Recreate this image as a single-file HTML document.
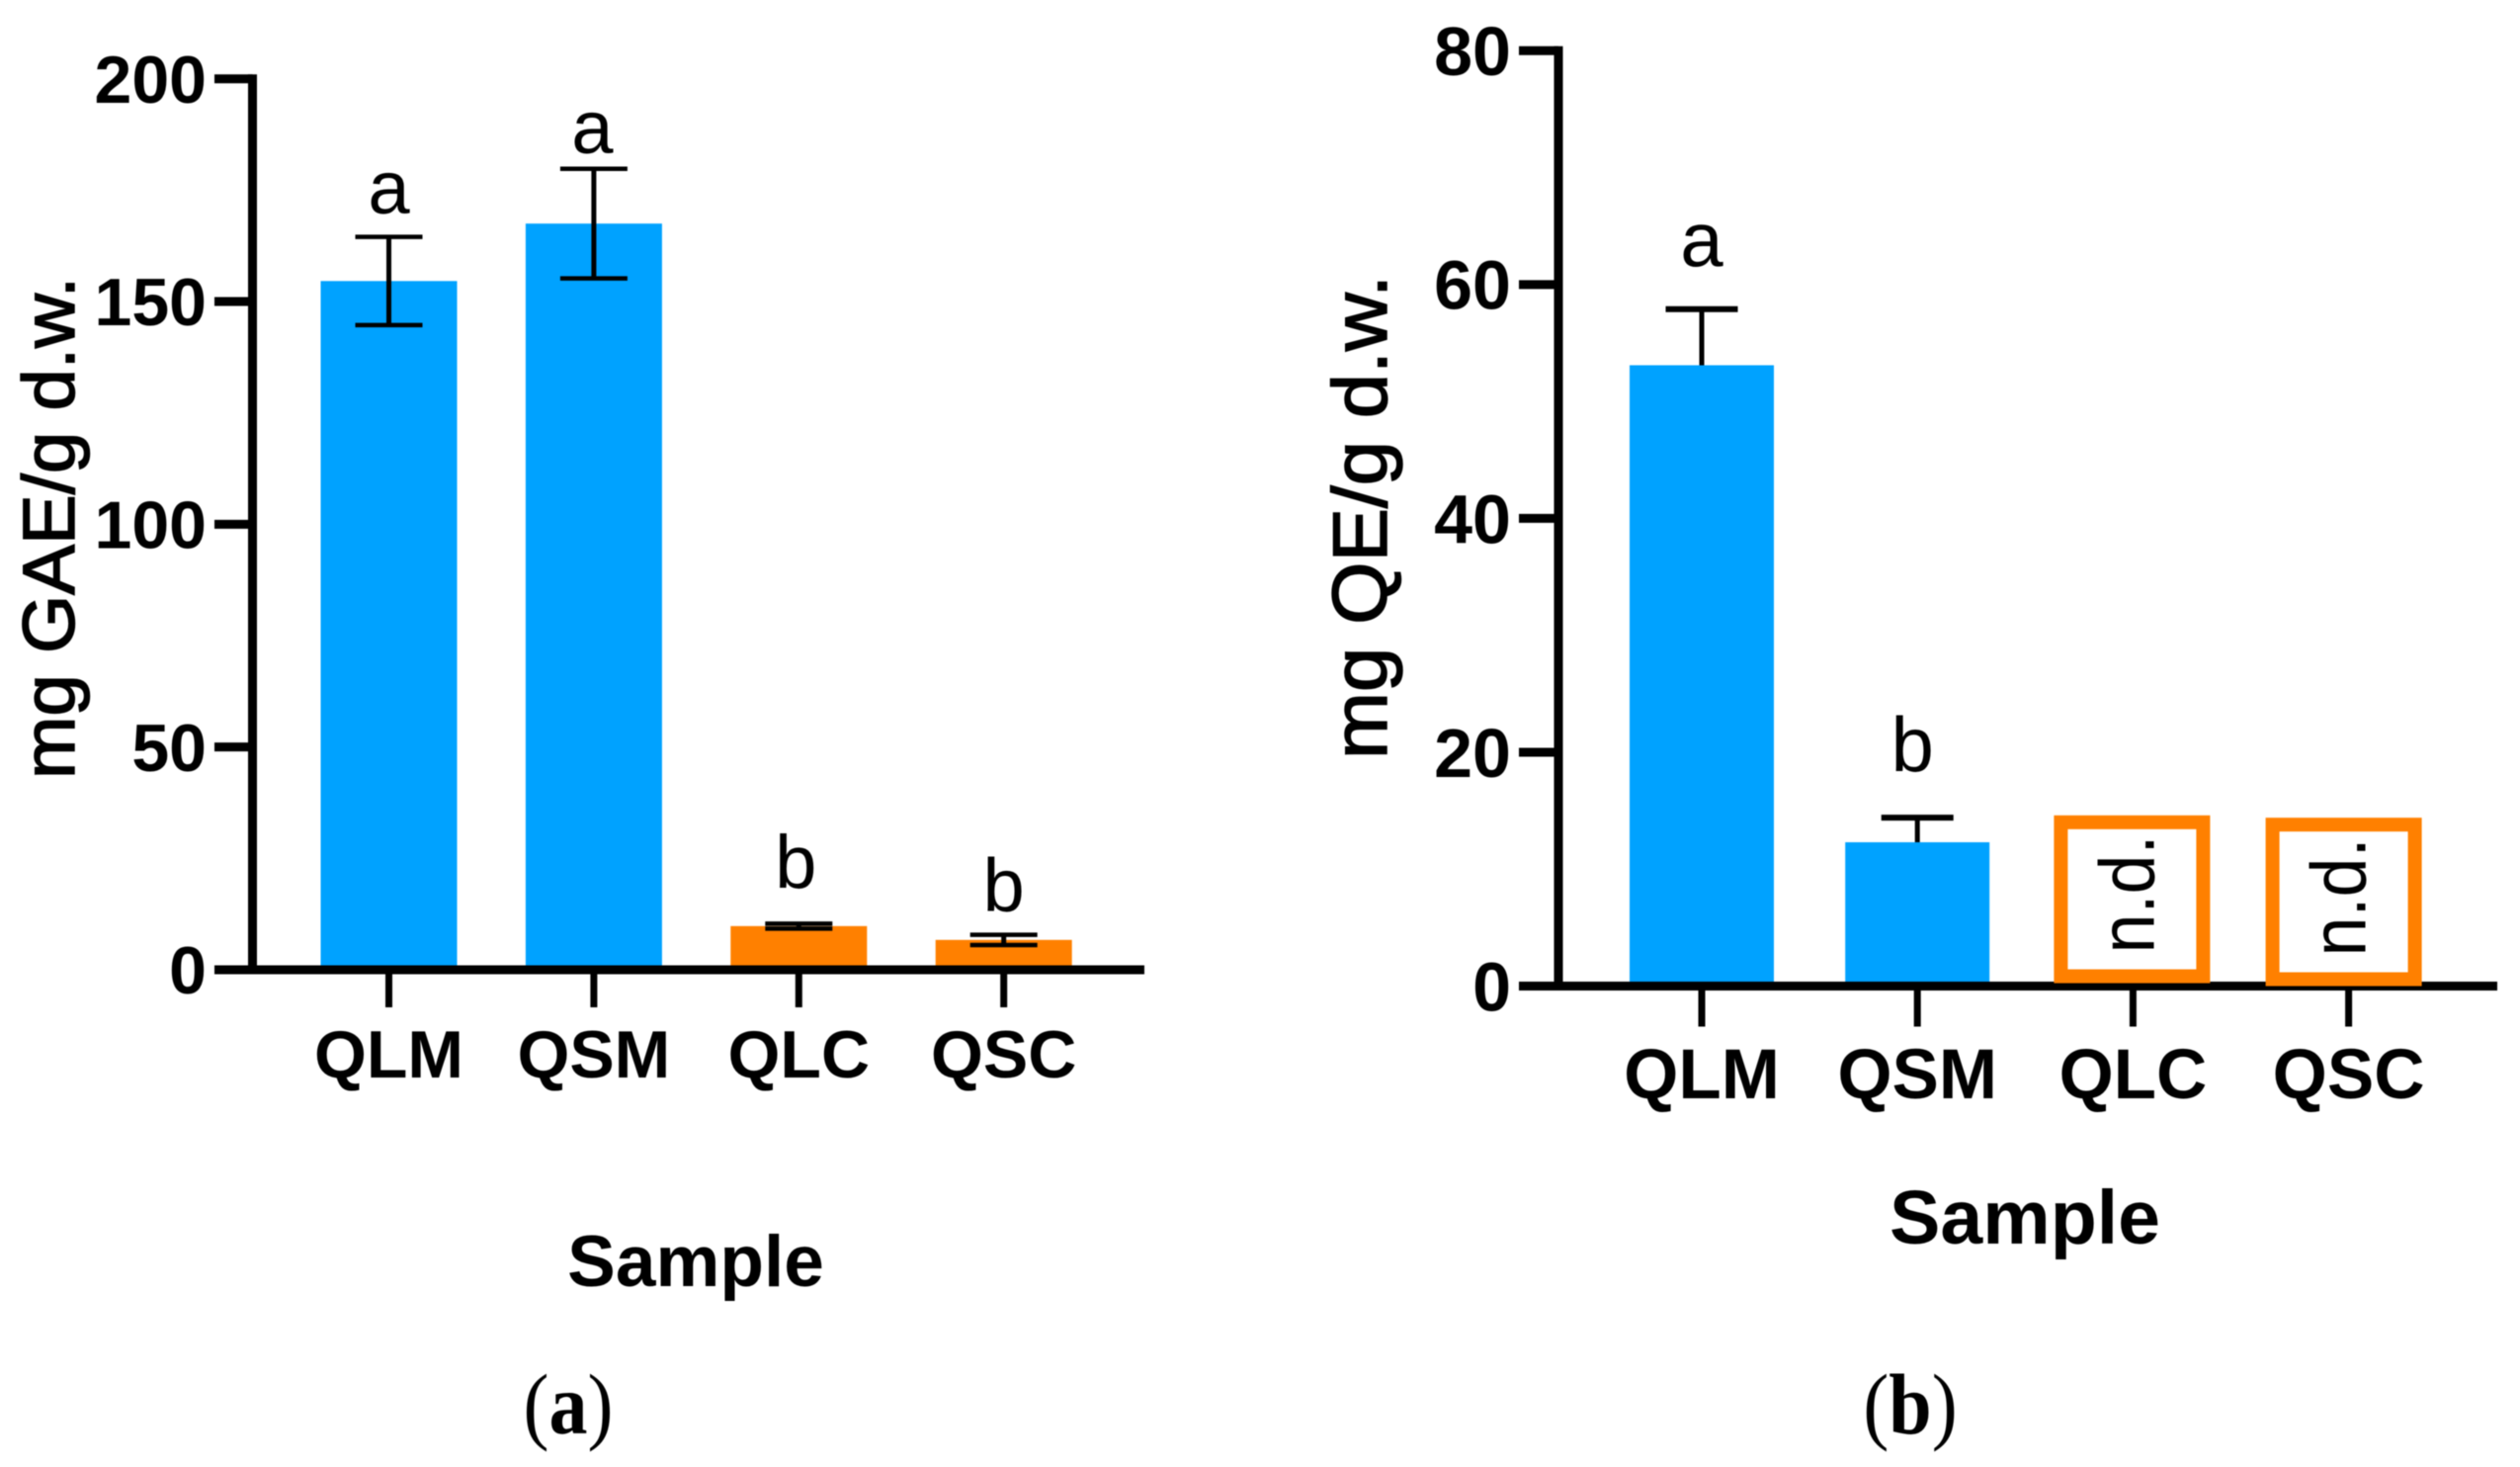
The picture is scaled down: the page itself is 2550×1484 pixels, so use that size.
<!DOCTYPE html>
<html lang="en">
<head>
<meta charset="utf-8">
<title>Phenolic and flavonoid content by sample</title>
<style>
html,body{margin:0;padding:0;background:#fff;}
svg{display:block;filter:blur(0.6px);}
text{font-family:"Liberation Sans",sans-serif;fill:#000;}
.serif{font-family:"Liberation Serif",serif;}
</style>
</head>
<body>
<svg id="figure" xmlns="http://www.w3.org/2000/svg" width="2550" height="1484" viewBox="0 0 2550 1484">
  <g id="panel-a"></g>
  <g id="panel-b"></g>
  <text class="serif" transform="translate(575 1450) scale(1 1.12)" font-size="78" text-anchor="middle">(<tspan font-weight="bold">a</tspan>)</text>
  <text class="serif" transform="translate(1933 1450) scale(1 1.12)" font-size="78" text-anchor="middle">(<tspan font-weight="bold">b</tspan>)</text>
</svg>
<script>
const categories = ['QLM', 'QSM', 'QLC', 'QSC'];

const gaeValues = [154.6, 167.5, 9.8, 6.7];
const gaeErrors = [9.9, 12.3, 0.55, 1.15];
const gaeLetters = ['a', 'a', 'b', 'b'];
const gaeLetterLevels = [169.8, 183.3, 18.4, 13.2];
const gaeTicks = [0, 50, 100, 150, 200];

const qeValues = [53.1, 12.3];
const qeErrors = [4.8, 2.1];
const qeLetters = ['a', 'b'];
const qeLetterLevels = [61.6, 18.4];
const qeTicks = [0, 20, 40, 60, 80];
const qeNotDetectedTops = [14.6, 14.4];
const qeNotDetectedBases = [0.25, 0];
const notDetectedLabel = 'n.d.';

const NS = 'http://www.w3.org/2000/svg';
const BLUE = '#00a2ff';
const ORANGE = '#ff8000';

function mk(parent, tag, attrs, text) {
  const el = document.createElementNS(NS, tag);
  for (const k in attrs) el.setAttribute(k, attrs[k]);
  if (text !== undefined) el.textContent = text;
  parent.appendChild(el);
  return el;
}

function makeAxes(o) {
  const y = v => o.y0 + (o.yTop - o.y0) * v / o.yMax;
  const x = i => o.catX0 + o.catStep * i;
  return { x, y };
}

function drawAxes(g, o, s, ticks) {
  let el;
  el = mk(g, 'line', {x1: o.axisX, x2: o.axisX, y1: s.y(o.yMax) - 4.5, y2: o.y0 + 4.5, stroke: '#000', 'stroke-width': o.axisW});
  
  
  el = mk(g, 'line', {x1: o.tickL, x2: o.xEnd, y1: o.y0, y2: o.y0, stroke: '#000', 'stroke-width': o.axisW});
  
  
  ticks.forEach(t => {
    el = mk(g, 'line', {x1: o.tickL, x2: o.axisX, y1: s.y(t), y2: s.y(t), stroke: '#000', 'stroke-width': o.axisW});
    
    
    el = mk(g, 'text', {x: o.tickL - 8, y: s.y(t) + o.tickFont * 0.355, 'font-size': o.tickFont, 'font-weight': 'bold', 'text-anchor': 'end'}, String(t));
    
    
  });
  categories.forEach((c, i) => {
    el = mk(g, 'line', {x1: s.x(i), x2: s.x(i), y1: o.y0, y2: o.y0 + o.xTickLen, stroke: '#000', 'stroke-width': 7});
    
    
    el = mk(g, 'text', {x: s.x(i), y: o.catY, 'font-size': o.catFont, 'font-weight': 'bold', 'text-anchor': 'middle'}, c);
    
    
  });
}

function drawBars(g, o, s, values, errors, letters, levels, hasLowerCap) {
  let el;
  values.forEach((v, i) => {
    const cx = s.x(i);
    const color = i < 2 ? BLUE : ORANGE;
    el = mk(g, 'rect', {x: cx - o.barW / 2, y: s.y(v), width: o.barW, height: o.y0 - s.y(v), fill: color});
    
    
    const hi = s.y(v + errors[i]);
    const lo = s.y(hasLowerCap ? v - errors[i] : v);
    el = mk(g, 'line', {x1: cx, x2: cx, y1: hi, y2: lo, stroke: '#000', 'stroke-width': 5});
    
    
    el = mk(g, 'line', {x1: cx - o.capW / 2, x2: cx + o.capW / 2, y1: hi, y2: hi, stroke: '#000', 'stroke-width': o.capT});
    
    
    if (hasLowerCap) {
      el = mk(g, 'line', {x1: cx - o.capW / 2, x2: cx + o.capW / 2, y1: lo, y2: lo, stroke: '#000', 'stroke-width': o.capT});
      
      
    }
    el = mk(g, 'text', {x: cx + o.letterDx[i], y: s.y(levels[i]), 'font-size': o.letterFont, 'text-anchor': 'middle'}, letters[i]);
    
    
  });
}

function drawTitles(g, o, yTitle) {
  let el;
  el = mk(g, 'text', {transform: 'translate(' + o.yTitleX + ' ' + o.yTitleY + ') rotate(-90)', 'font-size': o.yTitleFont, 'text-anchor': 'middle', textLength: o.yTitleLen, lengthAdjust: 'spacingAndGlyphs', stroke: '#000', 'stroke-width': 1.5}, yTitle);
  
  
  el = mk(g, 'text', {x: o.xTitleX, y: o.xTitleY, 'font-size': o.xTitleFont, 'font-weight': 'bold', 'text-anchor': 'middle'}, 'Sample');
  
  
}

const optsA = {
  y0: 981, yTop: 79.7, yMax: 200, axisX: 255.5, axisW: 9, tickL: 217, xEnd: 1158,
  catX0: 393.5, catStep: 207.4, barW: 138, capW: 68, capT: 4.5, xTickLen: 38,
  tickFont: 68, catFont: 68, catY: 1090,
  letterFont: 76, letterDx: [0, -1.5, -3, 0], yTitleFont: 74, xTitleFont: 73,
  yTitleX: 75, yTitleY: 534, yTitleLen: 508, xTitleX: 704, xTitleY: 1301
};
const optsB = {
  y0: 997.5, yTop: 51.3, yMax: 80, axisX: 1577, axisW: 9, tickL: 1537, xEnd: 2527,
  catX0: 1722, catStep: 218.2, barW: 146, capW: 73, capT: 6, xTickLen: 41,
  tickFont: 70, catFont: 71, catY: 1111,
  letterFont: 78, letterDx: [0, -5], yTitleFont: 78, xTitleFont: 77,
  yTitleX: 1403, yTitleY: 523, yTitleLen: 490, xTitleX: 2049, xTitleY: 1258
};

const gA = document.getElementById('panel-a');
const sA = makeAxes(optsA);
drawBars(gA, optsA, sA, gaeValues, gaeErrors, gaeLetters, gaeLetterLevels, true);
drawAxes(gA, optsA, sA, gaeTicks);
drawTitles(gA, optsA, 'mg GAE/g d.w.');

const gB = document.getElementById('panel-b');
const sB = makeAxes(optsB);
drawBars(gB, optsB, sB, qeValues, qeErrors, qeLetters, qeLetterLevels, false);
drawAxes(gB, optsB, sB, qeTicks);
drawTitles(gB, optsB, 'mg QE/g d.w.');

qeNotDetectedTops.forEach((h, k) => {
  const i = k + 2;
  const cx = sB.x(i) + [-1, -5][k];
  const bw = 158, sw = 14;
  const top = sB.y(h);
  const bottom = sB.y(qeNotDetectedBases[k]);
  let el = mk(gB, 'rect', {x: cx - bw / 2 + sw / 2, y: top + sw / 2, width: bw - sw, height: bottom - top - sw, fill: '#fff', stroke: ORANGE, 'stroke-width': sw});
  
  
  el = mk(gB, 'text', {transform: 'translate(' + (cx + 22) + ' ' + (bottom - 30) + ') rotate(-90) scale(1 1.1)', 'font-size': 72}, notDetectedLabel);
  
  
});
</script>
</body>
</html>
